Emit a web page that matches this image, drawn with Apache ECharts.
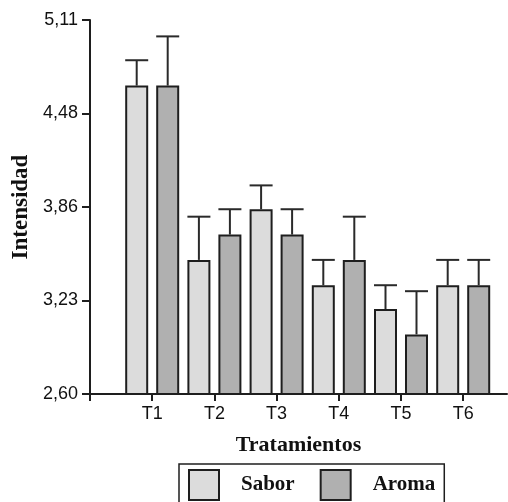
<!DOCTYPE html>
<html>
<head>
<meta charset="utf-8">
<style>
  html, body { margin: 0; padding: 0; background: #ffffff; }
  #chart { width: 508px; height: 502px; }
</style>
<script src="https://cdn.jsdelivr.net/npm/echarts@6/dist/echarts.min.js"></script>
</head>
<body>
<div id="chart"></div>
<script>
// ---- data ----
const categories = ['T1', 'T2', 'T3', 'T4', 'T5', 'T6'];
const seriesNames = ['Sabor', 'Aroma'];
const saborValues = [4.67, 3.50, 3.84, 3.33, 3.17, 3.33];
const aromaValues = [4.67, 3.67, 3.67, 3.50, 3.00, 3.33];
const saborErrors = [0.17, 0.29, 0.16, 0.17, 0.16, 0.17];
const aromaErrors = [0.33, 0.17, 0.17, 0.29, 0.29, 0.17];
const yTickLabels = ['2,60', '3,23', '3,86', '4,48', '5,11'];
const yMin = 2.60;
const yMax = 5.11;

// ---- style ----
const BAR_W = 23;
const BAR_GAP = 8;
const DARK = '#1e1e1e';
const fillColors = ['#dcdcdc', '#b0b0b0'];
const serifBold = { fontFamily: '"Liberation Serif", "DejaVu Serif", serif', fontWeight: 'bold' };

const yStep = (yMax - yMin) / (yTickLabels.length - 1);
const yTickValues = yTickLabels.map((_, i) => yMin + i * yStep);
function yLabel(v) {
  const i = Math.round((v - yMin) / yStep);
  return yTickLabels[i] !== undefined ? yTickLabels[i] : '';
}

// plotting layout (pixels)
const plotLeft = 90, plotTop = 20, plotRight = 507, plotBottom = 394;
const catPitch = 62.2;
const firstCenter = 152.2;
const catLeft = firstCenter - catPitch / 2;
const catWidth = catPitch * categories.length;
const xValueMax = (plotRight - plotLeft) / catPitch;

const chart = echarts.init(document.getElementById('chart'), null, { renderer: 'canvas' });

function errorSeries(name, values, errors, sideIndex) {
  const data = values.map((v, i) => [i, v, v + errors[i]]);
  const offset = (sideIndex === 0 ? -1 : 1) * (BAR_W + BAR_GAP) / 2;
  return {
    type: 'custom',
    name: name + ' error',
    xAxisIndex: 1,
    yAxisIndex: 1,
    z: 1,
    silent: true,
    legendHoverLink: false,
    data: data,
    renderItem: function (params, api) {
      const base = api.coord([api.value(0), api.value(1)]);
      const top = api.coord([api.value(0), api.value(2)]);
      const x = base[0] + offset;
      const half = BAR_W / 2;
      const st = { stroke: '#2a2a2a', lineWidth: 2 };
      return {
        type: 'group',
        children: [
          { type: 'line', shape: { x1: x, y1: base[1], x2: x, y2: top[1] }, style: st },
          { type: 'line', shape: { x1: x - half, y1: top[1], x2: x + half, y2: top[1] }, style: st }
        ]
      };
    }
  };
}

const option = {
  backgroundColor: '#ffffff',
  animation: false,
  legend: {
    data: seriesNames,
    left: 179,
    top: 464,
    orient: 'horizontal',
    icon: 'rect',
    itemWidth: 30,
    itemHeight: 30,
    itemGap: 25,
    padding: [5, 9, 10, 9],
    borderColor: DARK,
    borderWidth: 1.5,
    itemStyle: { borderColor: DARK, borderWidth: 2 },
    textStyle: Object.assign({ fontSize: 21, color: '#111', padding: [0, 0, 0, 17] }, serifBold)
  },
  grid: [
    { left: plotLeft, top: plotTop, width: plotRight - plotLeft, height: plotBottom - plotTop, containLabel: false },
    { left: catLeft, top: plotTop, width: catWidth, height: plotBottom - plotTop, containLabel: false }
  ],
  xAxis: [
    {
      type: 'value',
      gridIndex: 0,
      min: 0,
      max: xValueMax,
      splitLine: { show: false },
      axisLine: { show: true, lineStyle: { color: DARK, width: 2 } },
      axisTick: { show: true, length: 7, customValues: [0, 1, 2, 3, 4, 5, 6], lineStyle: { color: DARK, width: 2 } },
      axisLabel: {
        customValues: [1, 2, 3, 4, 5, 6],
        formatter: function (v) { return categories[Math.round(v) - 1] || ''; },
        fontFamily: '"Liberation Sans", Arial, sans-serif',
        fontSize: 18,
        color: '#111',
        margin: 11
      },
      name: 'Tratamientos',
      nameLocation: 'middle',
      nameGap: 40,
      nameTextStyle: Object.assign({ fontSize: 22, color: '#111' }, serifBold)
    },
    {
      type: 'category',
      gridIndex: 1,
      data: categories,
      show: false,
      boundaryGap: true
    }
  ],
  yAxis: [
    {
      type: 'value',
      gridIndex: 0,
      min: yMin,
      max: yMax,
      splitLine: { show: false },
      axisLine: { show: true, lineStyle: { color: DARK, width: 2 } },
      axisTick: { show: true, length: 8, customValues: yTickValues, lineStyle: { color: DARK, width: 2 } },
      axisLabel: {
        customValues: yTickValues,
        formatter: yLabel,
        fontFamily: '"Liberation Sans", Arial, sans-serif',
        fontSize: 18,
        color: '#111',
        margin: 12
      },
      name: 'Intensidad',
      nameLocation: 'middle',
      nameRotate: 90,
      nameGap: 54,
      nameTextStyle: Object.assign({ fontSize: 23, color: '#111' }, serifBold)
    },
    {
      type: 'value',
      gridIndex: 1,
      min: yMin,
      max: yMax,
      show: false,
      splitLine: { show: false }
    }
  ],
  series: [
    {
      name: seriesNames[0],
      type: 'bar',
      xAxisIndex: 1,
      yAxisIndex: 1,
      barWidth: BAR_W,
      barGap: (BAR_GAP / BAR_W * 100) + '%',
      z: 2,
      itemStyle: { color: fillColors[0], borderColor: DARK, borderWidth: 2 },
      data: saborValues
    },
    {
      name: seriesNames[1],
      type: 'bar',
      xAxisIndex: 1,
      yAxisIndex: 1,
      barWidth: BAR_W,
      barGap: (BAR_GAP / BAR_W * 100) + '%',
      z: 2,
      itemStyle: { color: fillColors[1], borderColor: DARK, borderWidth: 2 },
      data: aromaValues
    },
    errorSeries(seriesNames[0], saborValues, saborErrors, 0),
    errorSeries(seriesNames[1], aromaValues, aromaErrors, 1)
  ]
};

chart.setOption(option);
</script>
</body>
</html>
